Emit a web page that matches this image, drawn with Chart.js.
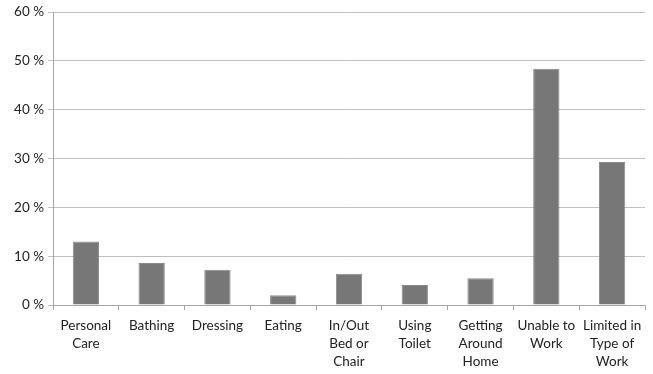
<!DOCTYPE html>
<html><head><meta charset="utf-8">
<script src="https://cdn.jsdelivr.net/npm/chart.js@4/dist/chart.umd.min.js"></script>
<style>html,body{margin:0;padding:0;background:#fff}#wrap{width:653px;height:374px}</style>
</head><body><div id="wrap"><canvas id="c" width="653" height="374"></canvas></div>
<script>
const categories = [["Personal","Care"],["Bathing"],["Dressing"],["Eating"],["In/Out","Bed or","Chair"],["Using","Toilet"],["Getting","Around","Home"],["Unable to","Work"],["Limited in","Type of","Work"]];
const values = [13.0, 8.6, 7.2, 2.0, 6.4, 4.1, 5.5, 48.4, 29.3];
const yTicks = [0, 10, 20, 30, 40, 50, 60];

new Chart(document.getElementById('c'), {
  type: 'bar',
  data: { labels: categories, datasets: [{ data: values, backgroundColor: '#777777', borderColor: '#8a8a8a', borderWidth: 1, categoryPercentage: 1, barPercentage: 0.4 }] },
  options: {
    responsive: false, animation: false, devicePixelRatio: 1,
    layout: { padding: { top: 12, right: 8, left: 0, bottom: 0 } },
    plugins: { legend: { display: false }, tooltip: { enabled: false } },
    scales: {
      x: {
        grid: { display: true, drawOnChartArea: false, drawTicks: true, tickLength: 5, color: '#a6a6a6', offset: true },
        border: { color: '#a6a6a6' },
        ticks: { color: '#222', font: { family: 'Lato', size: 13.5, lineHeight: 1.33 }, maxRotation: 0, autoSkip: false, padding: 7 },
        afterFit: s => { s.height = 69; }
      },
      y: {
        min: 0, max: 60,
        afterBuildTicks: s => { s.ticks = yTicks.map(v => ({ value: v })); },
        grid: { color: '#bfbfbf', tickLength: 5, drawTicks: true },
        border: { color: '#a6a6a6' },
        ticks: { color: '#222', font: { family: 'Lato', size: 13.5 }, padding: 4, callback: v => v + ' %' },
        afterFit: s => { s.width = 53; }
      }
    }
  }
});
</script></body></html>
